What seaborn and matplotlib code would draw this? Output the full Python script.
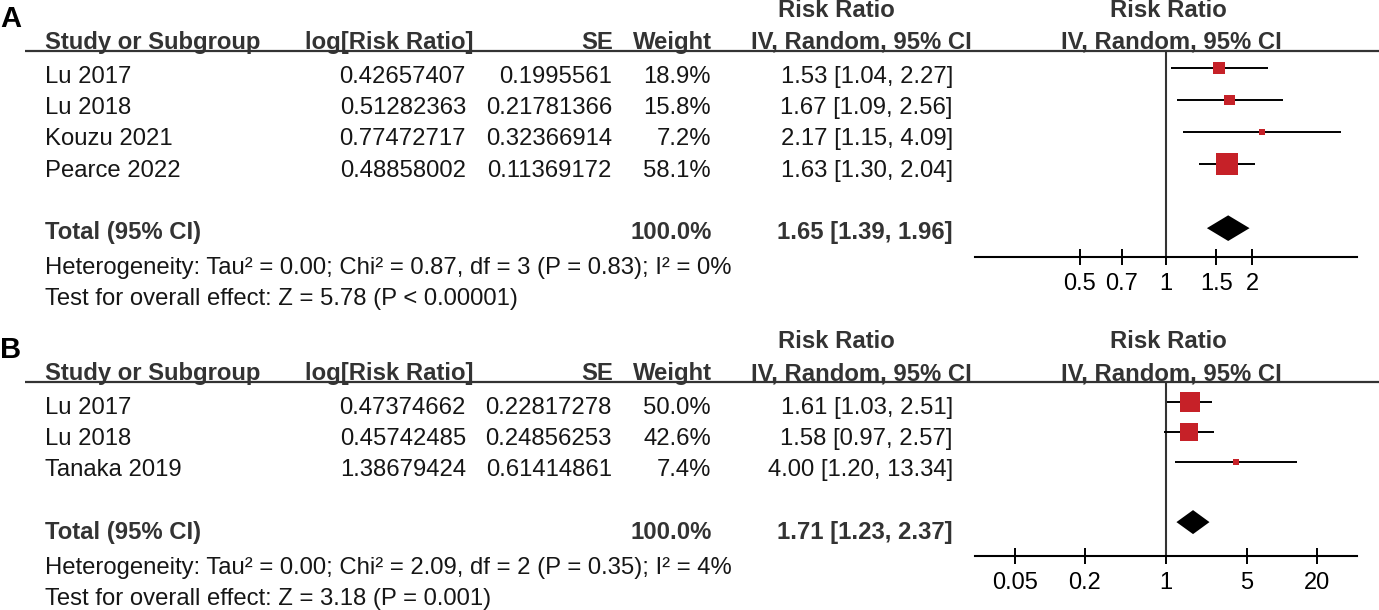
import numpy as np
import pandas as pd
import matplotlib
matplotlib.use('Agg')
import matplotlib.pyplot as plt
import seaborn as sns
from matplotlib.ticker import FixedLocator, FixedFormatter, NullLocator

# ---- panel A data
studies_a = ['Lu 2017', 'Lu 2018', 'Kouzu 2021', 'Pearce 2022']
log_rr_a = [0.42657407, 0.51282363, 0.77472717, 0.48858002]
se_a = [0.1995561, 0.21781366, 0.32366914, 0.11369172]
weight_a = [18.9, 15.8, 7.2, 58.1]
rr_a = [1.53, 1.67, 2.17, 1.63]
lo_a = [1.04, 1.09, 1.15, 1.30]
hi_a = [2.27, 2.56, 4.09, 2.04]
total_a = [1.65, 1.39, 1.96]
het_a = 'Heterogeneity: Tau² = 0.00; Chi² = 0.87, df = 3 (P = 0.83); I² = 0%'
test_a = 'Test for overall effect: Z = 5.78 (P < 0.00001)'
ticks_a = [0.5, 0.7, 1, 1.5, 2]
tick_labels_a = ['0.5', '0.7', '1', '1.5', '2']

# ---- panel B data
studies_b = ['Lu 2017', 'Lu 2018', 'Tanaka 2019']
log_rr_b = [0.47374662, 0.45742485, 1.38679424]
se_b = [0.22817278, 0.24856253, 0.61414861]
weight_b = [50.0, 42.6, 7.4]
rr_b = [1.61, 1.58, 4.00]
lo_b = [1.03, 0.97, 1.20]
hi_b = [2.51, 2.57, 13.34]
total_b = [1.71, 1.23, 2.37]
het_b = 'Heterogeneity: Tau² = 0.00; Chi² = 2.09, df = 2 (P = 0.35); I² = 4%'
test_b = 'Test for overall effect: Z = 3.18 (P = 0.001)'
ticks_b = [0.05, 0.2, 1, 5, 20]
tick_labels_b = ['0.05', '0.2', '1', '5', '20']

W, H = 1379, 610
RED = '#c62128'
DARK = '#333333'
INK = '#161616'
FS = 17.2

sns.set_style('white')
plt.rcParams['font.family'] = ['Liberation Sans', 'DejaVu Sans']

fig = plt.figure(figsize=(W / 100, H / 100), dpi=100)
ax = fig.add_axes([0, 0, 1, 1])
ax.set_xlim(0, W)
ax.set_ylim(H, 0)
ax.axis('off')


def panel(label, oy, studies, log_rr, se, weight, rr, lo, hi, total, het, test,
          ticks, tick_labels, frect, fylim, fxlim, step):
    bold = dict(fontweight='bold', color=DARK, fontsize=FS, va='baseline')
    norm = dict(color=INK, fontsize=FS, va='baseline')

    ax.text(0, oy + 27, label, fontweight='bold', color='black', fontsize=21, va='baseline')
    ax.text(836, oy + 17, 'Risk Ratio', ha='center', **bold)
    ax.text(1168, oy + 17, 'Risk Ratio', ha='center', **bold)
    hy = oy + 49
    ax.text(45, hy, 'Study or Subgroup', ha='left', **bold)
    ax.text(305, hy, 'log[Risk Ratio]', ha='left', **bold)
    ax.text(613, hy, 'SE', ha='right', **bold)
    ax.text(712, hy, 'Weight', ha='right', **bold)
    ax.text(972, hy, 'IV, Random, 95% CI', ha='right', **bold)
    ax.text(1171, hy, 'IV, Random, 95% CI', ha='center', **bold)
    ax.plot([25, W], [oy + 51, oy + 51], color=DARK, lw=1.6, solid_capstyle='butt')

    y0 = oy + 83
    for i, s in enumerate(studies):
        y = y0 + i * step
        ax.text(45, y, s, ha='left', **norm)
        ax.text(466, y, f'{log_rr[i]}', ha='right', **norm)
        ax.text(612, y, f'{se[i]}', ha='right', **norm)
        ax.text(711, y, f'{weight[i]:.1f}%', ha='right', **norm)
        ax.text(953, y, f'{rr[i]:.2f} [{lo[i]:.2f}, {hi[i]:.2f}]', ha='right', **norm)
    yt = y0 + (len(studies) + 1) * step
    ax.text(45, yt, 'Total (95% CI)', ha='left', **bold)
    ax.text(712, yt, f'{sum(weight):.1f}%', ha='right', **bold)
    ax.text(953, yt, f'{total[0]:.2f} [{total[1]:.2f}, {total[2]:.2f}]', ha='right', **bold)
    ax.text(45, yt + 35, het, ha='left', **norm)
    ax.text(45, yt + 66, test, ha='left', **norm)

    # forest plot
    l, t, r, b = frect
    fax = fig.add_axes([l / W, 1 - b / H, (r - l) / W, (b - t) / H])
    fax.set_facecolor('none')
    fax.set_xscale('log')
    df = pd.DataFrame({'rr': rr, 'lo': lo, 'hi': hi, 'weight': weight,
                       'row': np.arange(len(studies))})
    fax.axvline(1, color=DARK, lw=1.5, zorder=1)
    fax.hlines(df['row'], df['lo'], df['hi'], color='black', lw=1.4, zorder=2)
    sns.scatterplot(data=df, x='rr', y='row', size='weight', sizes=(18.7, 251),
                    size_norm=(7.2, 58.1), marker='s', color=RED, linewidth=0,
                    legend=False, ax=fax, zorder=3)
    tr = len(studies) + 1
    dh = 0.4
    fax.fill([total[1], total[0], total[2], total[0]], [tr, tr - dh, tr, tr + dh],
             color='black', lw=0, zorder=3)
    fax.set_xlim(*fxlim)
    fax.set_ylim(*fylim)
    for sp in ['top', 'left', 'right']:
        fax.spines[sp].set_visible(False)
    fax.spines['bottom'].set_linewidth(1.5)
    fax.spines['bottom'].set_color('black')
    fax.xaxis.set_major_locator(FixedLocator(ticks))
    fax.xaxis.set_major_formatter(FixedFormatter(tick_labels))
    fax.xaxis.set_minor_locator(NullLocator())
    fax.set_yticks([])
    fax.tick_params(axis='x', direction='inout', length=11, width=1.4, pad=6,
                    labelsize=17, colors='black', bottom=True)
    fax.set_xlabel('')
    fax.set_ylabel('')


panel('A', 0, studies_a, log_rr_a, se_a, weight_a, rr_a, lo_a, hi_a, total_a,
      het_a, test_a, ticks_a, tick_labels_a, (975, 50, 1357, 257), (5.9, -0.56),
      (10 ** -0.668, 10 ** 0.668), 31.2)
panel('B', 331, studies_b, log_rr_b, se_b, weight_b, rr_b, lo_b, hi_b, total_b,
      het_b, test_b, ticks_b, tick_labels_b, (975, 382, 1357, 556), (5.13, -0.67),
      (10 ** -1.646, 10 ** 1.646), 31.2)

fig.savefig('out.png', dpi=100)
